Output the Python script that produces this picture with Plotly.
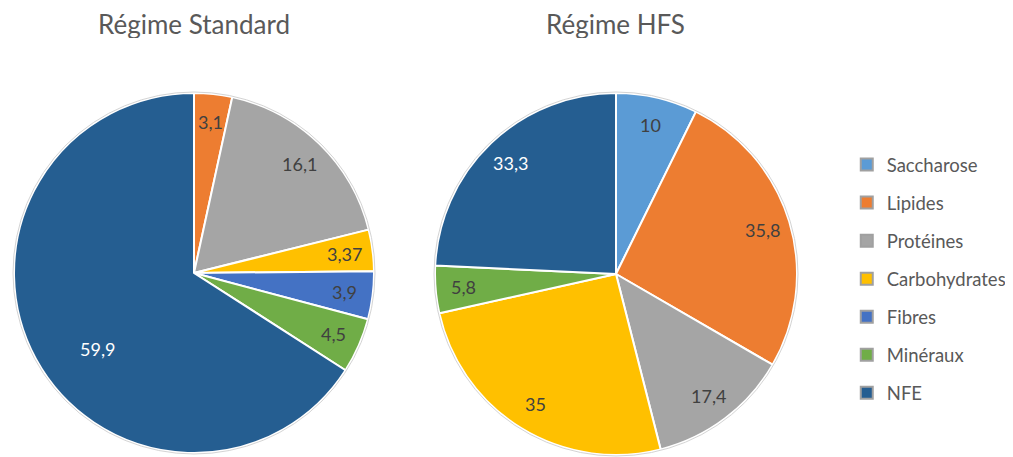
import math
import plotly.graph_objects as go

categories = ["Saccharose", "Lipides", "Protéines", "Carbohydrates", "Fibres", "Minéraux", "NFE"]
standard_values = [None, 3.1, 16.1, 3.37, 3.9, 4.5, 59.9]
hfs_values = [10, 35.8, 17.4, 35, None, 5.8, 33.3]
titles = ["Régime Standard", "Régime HFS"]

colors = ["#5B9BD5", "#ED7D31", "#A5A5A5", "#FFC000", "#4472C4", "#70AD47", "#255E91"]
text_colors = ["#404040", "#404040", "#404040", "#404040", "#404040", "#404040", "#FFFFFF"]
FONT = "Lato, 'Open Sans', sans-serif"

W, H = 1013, 457
# pie geometry in div pixels (center x, center y, radius)
pies_geom = [(186, 265, 180), (608, 266, 181)]


def fmt(v):
    return ("%g" % v).replace(".", ",")


fig = go.Figure()

for values, (cx, cy, r) in zip([standard_values, hfs_values], pies_geom):
    idx = [i for i, v in enumerate(values) if v is not None]
    vals = [values[i] for i in idx]
    dom = dict(x=[(cx - r) / W, (cx + r) / W], y=[1 - (cy + r) / H, 1 - (cy - r) / H])
    fig.add_trace(go.Pie(
        labels=[categories[i] for i in idx],
        values=vals,
        textinfo="none",
        marker=dict(colors=[colors[i] for i in idx], line=dict(color="white", width=2)),
        sort=False,
        direction="clockwise",
        rotation=0,
        showlegend=False,
        hoverinfo="label+value",
        domain=dom,
    ))
    # light outer ring
    fig.add_shape(type="circle", xref="paper", yref="paper",
                  x0=(cx - r - 1) / W, x1=(cx + r + 1) / W,
                  y0=1 - (cy + r + 1) / H, y1=1 - (cy - r - 1) / H,
                  line=dict(color="#D4D4D4", width=1), layer="above")
    # data labels (Excel "best fit"-like placement)
    total = sum(vals)
    cum = 0.0
    for i, v in zip(idx, vals):
        frac = v / total
        mid = (cum + frac / 2) * 2 * math.pi
        cum += frac
        rf = 0.68 if frac > 0.5 else 0.845
        px = cx + rf * r * math.sin(mid)
        py = cy - rf * r * math.cos(mid)
        if frac > 0.5:
            px, py = cx - 0.79 * rf * r, cy + 0.62 * rf * r
        fig.add_annotation(text=fmt(v), x=px / W, y=1 - py / H, xref="paper", yref="paper",
                           showarrow=False, xanchor="center", yanchor="middle",
                           font=dict(family=FONT, size=18, color=text_colors[i]))

# legend entries
for i, c in enumerate(categories):
    fig.add_trace(go.Scatter(
        x=[None], y=[None], mode="markers", name=c, legendgroup=c,
        marker=dict(symbol="square", size=11, color=colors[i], line=dict(color="#A0A0A0", width=1)),
        showlegend=True, hoverinfo="skip",
    ))

for t, xc in zip(titles, [186, 607]):
    fig.add_annotation(text=t, x=xc / W, y=1, xref="paper", yref="paper",
                       showarrow=False, xanchor="center", yanchor="top", height=28,
                       valign="middle",
                       font=dict(family=FONT, size=26, color="#595959"))

fig.update_layout(
    width=W, height=H,
    margin=dict(l=0, r=0, t=0, b=0),
    paper_bgcolor="white", plot_bgcolor="white",
    xaxis=dict(visible=False), yaxis=dict(visible=False),
    legend=dict(x=0.828, y=0.698, xanchor="left", yanchor="top",
                font=dict(family=FONT, size=18.5, color="#595959"),
                tracegroupgap=11, itemsizing="constant", itemwidth=30),
)

fig.write_html("out.html")
